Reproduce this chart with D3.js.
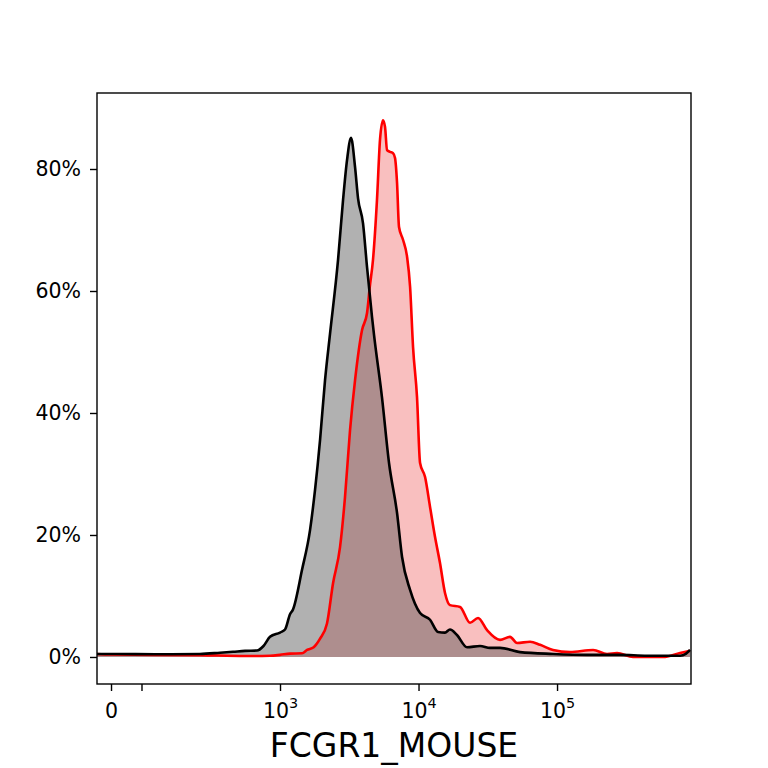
<!DOCTYPE html>
<html>
<head>
<meta charset="utf-8">
<script src="https://cdn.jsdelivr.net/npm/d3@7"></script>
<style>
  body { margin: 0; background: #fff; }
  text { font-family: "DejaVu Sans", sans-serif; }
</style>
</head>
<body>
<svg id="chart" width="768" height="768"></svg>
<script>
// histogram traces: [intensity, percent of max]
const blackTrace = [
  [-46, 0.5], [0, 0.5], [136, 0.45], [264, 0.5], [369, 0.7], [458, 0.85],
  [559, 1.0], [682, 1.05], [760, 1.8], [847, 3.3], [1000, 4.0], [1087, 4.5],
  [1181, 7.0], [1241, 7.8], [1442, 14.3], [1647, 20.8], [1790, 27.4],
  [1946, 35.6], [2114, 45.4], [2297, 53.0], [2624, 65.1], [2851, 74.9],
  [3048, 81.5], [3256, 85.1], [3482, 80.3], [3659, 75.2], [3975, 71.1],
  [4249, 63.9], [4617, 55.7], [4772, 52.8], [5445, 42.6], [6124, 31.8],
  [6998, 23.6], [7606, 16.4], [8690, 11.0], [10260, 7.2], [12110, 6.1],
  [13830, 4.1], [15530, 4.0], [16870, 4.5], [18960, 3.6], [22390, 1.6],
  [27800, 1.8], [32840, 1.5], [38760, 1.5], [54070, 0.8], [93500, 0.5],
  [164800, 0.35], [285200, 0.35], [446600, 0.2], [772600, 0.2],
  [850000, 0.5], [912000, 1.15]
];

const redTrace = [
  [-46, 0.5], [0, 0.4], [264, 0.3], [559, 0.16], [847, 0.2], [1000, 0.35],
  [1181, 0.55], [1442, 0.6], [1567, 1.15], [1750, 1.6], [1946, 3.0],
  [2184, 5.5], [2415, 12.1], [2712, 18.0], [2946, 26.2], [3203, 37.2],
  [3482, 45.4], [3911, 53.6], [4249, 56.4], [4449, 60.7], [4691, 65.1],
  [5012, 74.9], [5272, 84.8], [5541, 88.0], [5730, 86.9], [5925, 83.1],
  [6228, 82.8], [6550, 82.6], [6766, 81.8], [6998, 77.7], [7229, 70.5],
  [7727, 68.4], [8266, 65.6], [8690, 60.7], [9130, 50.8], [9752, 42.6],
  [10260, 31.8], [11150, 29.5], [12110, 24.6], [13150, 19.7], [14290, 15.4],
  [15530, 10.5], [16870, 8.5], [19940, 8.2], [23540, 5.6], [26900, 6.4],
  [31240, 4.4], [38760, 2.8], [45780, 3.3], [51430, 2.3], [63840, 2.5],
  [75400, 2.0], [93500, 1.15], [124100, 0.8], [182200, 1.15], [229700, 0.5],
  [271200, 0.65], [353900, 0.0], [582700, 0.0], [772600, 0.65], [912000, 1.0]
];

const xTickValues = [0, 100, 1000, 10000, 100000];
const xTickLabels = ["0", "", "10|3", "10|4", "10|5"];
const yTickValues = [0, 20, 40, 60, 80];
const xLabel = "FCGR1_MOUSE";

// log above 100, linear stretch below (logicle-like display)
function tr(v) {
  return v >= 100 ? Math.log10(v) : 2 - 0.22 * (1 - v / 100);
}

const mLeft = 97, mRight = 691, mTop = 93, mBottom = 684;
const tickFont = 20.5;
const svg = d3.select("#chart");

const xt = d3.scaleLinear().domain([tr(-46), tr(927000)]).range([mLeft, mRight]);
const x = v => xt(tr(v));
const y = d3.scaleLinear().domain([-4.43, 92.46]).range([mBottom, mTop]);

svg.append("defs").append("clipPath").attr("id", "plotClip")
  .append("rect")
  .attr("x", mLeft).attr("y", mTop)
  .attr("width", mRight - mLeft).attr("height", mBottom - mTop);

const plot = svg.append("g").attr("clip-path", "url(#plotClip)");

const area = d3.area()
  .x(d => x(d[0]))
  .y0(y(0))
  .y1(d => y(d[1]))
  .curve(d3.curveMonotoneX);

const line = d3.line()
  .x(d => x(d[0]))
  .y(d => y(d[1]))
  .curve(d3.curveMonotoneX);

plot.append("path").datum(redTrace)
  .attr("d", area).attr("fill", "#e60000").attr("fill-opacity", 0.25);
plot.append("path").datum(blackTrace)
  .attr("d", area).attr("fill", "#555555").attr("fill-opacity", 0.46);
plot.append("path").datum(redTrace)
  .attr("d", line).attr("fill", "none").attr("stroke", "#ff0000").attr("stroke-width", 2.6);
plot.append("path").datum(blackTrace)
  .attr("d", line).attr("fill", "none").attr("stroke", "#000").attr("stroke-width", 2.6);

// axes
const yAxis = svg.append("g")
  .attr("transform", `translate(${mLeft},0)`)
  .call(d3.axisLeft(y).tickValues(yTickValues).tickFormat(d => d + "%")
    .tickSize(7).tickPadding(9));

const xAxis = svg.append("g")
  .attr("transform", `translate(0,${mBottom})`)
  .call(d3.axisBottom(xt).tickValues(xTickValues.map(tr)).tickFormat("")
    .tickSize(7).tickPadding(11));

[yAxis, xAxis].forEach(g => {
  g.select(".domain").remove();
  g.selectAll(".tick line").attr("stroke", "#000").attr("stroke-width", 1.4);
  g.selectAll("text").attr("font-size", tickFont).attr("fill", "#000")
    .attr("font-family", "DejaVu Sans");
});

xAxis.selectAll(".tick text").each(function(d, i) {
  const parts = xTickLabels[i].split("|");
  const t = d3.select(this).text(null).attr("dy", null).attr("y", 34);
  t.append("tspan").text(parts[0]);
  if (parts[1]) {
    t.append("tspan").text(parts[1]).attr("font-size", tickFont * 0.7).attr("dy", -10);
  }
});

svg.append("rect")
  .attr("x", mLeft).attr("y", mTop)
  .attr("width", mRight - mLeft).attr("height", mBottom - mTop)
  .attr("fill", "none").attr("stroke", "#000").attr("stroke-width", 1.4);

svg.append("text")
  .attr("x", (mLeft + mRight) / 2).attr("y", 757)
  .attr("text-anchor", "middle")
  .attr("font-size", 33)
  .text(xLabel);
</script>
</body>
</html>
